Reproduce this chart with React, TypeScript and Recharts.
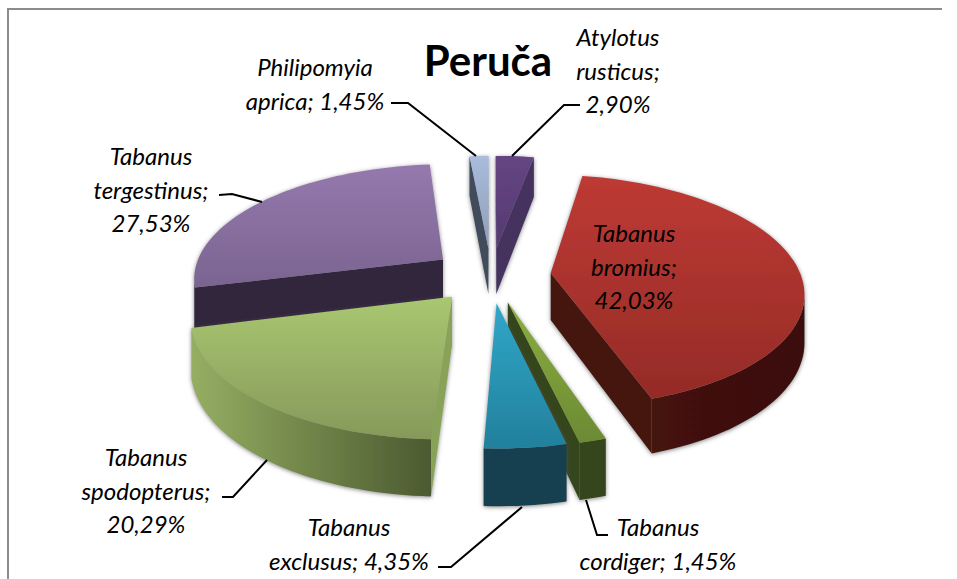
import { PieChart, Pie } from "recharts";

// slices are listed from the back left round clockwise, so later ones paint over earlier ones
const sliceNames = ["Tabanus tergestinus", "Philipomyia aprica", "Atylotus rusticus", "Tabanus bromius", "Tabanus cordiger", "Tabanus exclusus", "Tabanus spodopterus"];
const sliceValues = [27.53, 1.45, 2.9, 42.03, 1.45, 4.35, 20.29];
const labelLines = [
  ["Tabanus", "tergestinus;", "27,53%"],
  ["Philipomyia", "aprica; 1,45%"],
  ["Atylotus", "rusticus;", "2,90%"],
  ["Tabanus", "bromius;", "42,03%"],
  ["Tabanus", "cordiger; 1,45%"],
  ["Tabanus", "exclusus; 4,35%"],
  ["Tabanus", "spodopterus;", "20,29%"],
];
const chartTitle = "Peruča";

const chartData = sliceNames.map((name, i) => ({ name, value: sliceValues[i] }));

const topColors = [
  ["#9579ae", "#7a6490"],
  ["#a9bcdc", "#8e9eb6"],
  ["#644583", "#553a70"],
  ["#be3a34", "#942b27"],
  ["#8bae40", "#6c8a34"],
  ["#31a7c9", "#22809c"],
  ["#a9c771", "#86995a"],
];
const wallColors = [
  ["#32273d", "#32273d"],
  ["#3f4b5c", "#3f4b5c"],
  ["#45305f", "#45305f"],
  ["#45120f", "#3a0f0d"],
  ["#36451a", "#36451a"],
  ["#143f50", "#143f50"],
  ["#95ae62", "#4b5a30"],
];
const sideColors = ["#32273d", "#3f4b5c", "#45305f", "#45120f", "#36451a", "#143f50", "#88a358"];

// label block centre, first baseline, and leader line for each slice
const labelSpots = [
  { x: 151, y: 165, line: "219,195 232,194 262,202" },
  { x: 315, y: 76, line: "391,103 408,103 476,156" },
  { x: 618, y: 46, line: "580,105 564,105 512,156" },
  { x: 634, y: 242, line: "" },
  { x: 658, y: 536, line: "608,535 597,535 586,500" },
  { x: 349, y: 536, line: "438,567 451,567 522,507" },
  { x: 146, y: 466, line: "222,497 233,497 267,460" },
];

const EXPLODE = 0.24;
const SQUASH = 114 / 250;
const PERSPECTIVE = 0.15;
const DEPTH = 47;

function Slice3D(props: any) {
  const { cx, cy, outerRadius: R, startAngle, endAngle, index } = props;
  const clock = (a: number) => ((90 - a) * Math.PI) / 180;
  const a0 = clock(startAngle);
  const a1 = clock(endAngle);
  const mid = (a0 + a1) / 2;
  const offU = EXPLODE * Math.sin(mid);
  const offV = -EXPLODE * Math.cos(mid);

  const project = (u: number, v: number) => {
    const s = 1 / (1 - PERSPECTIVE * v);
    return { x: cx + u * R * s, y: cy + v * R * SQUASH * s, d: DEPTH * s };
  };
  const apex = project(offU, offV);
  const arc: { x: number; y: number; d: number }[] = [];
  const steps = Math.max(2, Math.ceil(Math.abs(a1 - a0) / 0.03));
  for (let i = 0; i <= steps; i++) {
    const a = a0 + ((a1 - a0) * i) / steps;
    arc.push(project(offU + Math.sin(a), offV - Math.cos(a)));
  }

  const toPath = (pts: { x: number; y: number }[]) => "M" + pts.map((p) => `${p.x.toFixed(1)},${p.y.toFixed(1)}`).join("L") + "Z";
  const wallPath = (pts: { x: number; y: number; d: number }[]) =>
    toPath([...pts, ...[...pts].reverse().map((p) => ({ x: p.x, y: p.y + p.d }))]);

  // only walls that run right to left on screen face the viewer
  const arcRuns: (typeof arc)[] = [];
  let run: typeof arc = [];
  for (let i = 1; i < arc.length; i++) {
    if (arc[i].x < arc[i - 1].x) {
      if (!run.length) run.push(arc[i - 1]);
      run.push(arc[i]);
    } else if (run.length) {
      arcRuns.push(run);
      run = [];
    }
  }
  if (run.length) arcRuns.push(run);

  const first = arc[0];
  const last = arc[arc.length - 1];
  const sides: (typeof arc)[] = [];
  if (first.x < apex.x) sides.push([apex, first]);
  if (apex.x < last.x) sides.push([last, apex]);

  return (
    <g filter="url(#sliceShadow)">
      {sides.map((pts, i) => (
        <path key={i} d={wallPath(pts)} fill={sideColors[index]} />
      ))}
      {arcRuns.map((pts, i) => (
        <path key={i} d={wallPath(pts)} fill={`url(#wall-${index})`} />
      ))}
      <path d={toPath([apex, ...arc])} fill={`url(#top-${index})`} />
    </g>
  );
}

function SliceLabel(props: any) {
  const { index } = props;
  const spot = labelSpots[index];
  return (
    <g>
      {spot.line && <polyline points={spot.line} fill="none" stroke="#000" strokeWidth={2} />}
      <text x={spot.x} y={spot.y} textAnchor="middle" fontFamily="Lato" fontStyle="italic" fontSize={24} fill="#000">
        {labelLines[index].map((t, i) => (
          <tspan key={i} x={spot.x} dy={i === 0 ? 0 : 33.5}>
            {t}
          </tspan>
        ))}
      </text>
    </g>
  );
}

export default function App() {
  return (
    <div style={{ position: "fixed", left: 0, top: 0, width: 957, height: 579, background: "#fff", overflow: "hidden" }}>
      <div style={{ position: "absolute", left: 7, top: 8, width: 933, height: 600, borderLeft: "2px solid #8c8c8c", borderTop: "2px solid #8c8c8c" }} />
      <div style={{ position: "absolute", left: 0, top: 0 }}>
        <PieChart width={957} height={579} margin={{ top: 0, right: 0, bottom: 0, left: 0 }}>
          <defs>
            {topColors.map((c, i) => (
              <linearGradient key={i} id={`top-${i}`} x1="0" y1="0" x2="0" y2="1">
                <stop offset="0" stopColor={c[0]} />
                <stop offset="1" stopColor={c[1]} />
              </linearGradient>
            ))}
            {wallColors.map((c, i) => (
              <linearGradient key={i} id={`wall-${i}`} x1="0" y1="0" x2="1" y2="0">
                <stop offset="0" stopColor={c[0]} />
                <stop offset="1" stopColor={c[1]} />
              </linearGradient>
            ))}
            <filter id="sliceShadow" x="-20%" y="-10%" width="140%" height="125%">
              <feDropShadow dx="0" dy="1" stdDeviation="2" floodColor="#555" floodOpacity="0.7" />
            </filter>
          </defs>
          <Pie
            data={chartData}
            dataKey="value"
            nameKey="name"
            cx={491}
            cy={275}
            outerRadius={250}
            startAngle={-165.67}
            endAngle={-525.67}
            shape={Slice3D}
            label={SliceLabel}
            labelLine={false}
            stroke="none"
            isAnimationActive={false}
          />
          <text x={488} y={76} textAnchor="middle" fontFamily="Lato" fontWeight="bold" fontSize={42} fill="#000">
            {chartTitle}
          </text>
        </PieChart>
      </div>
    </div>
  );
}
